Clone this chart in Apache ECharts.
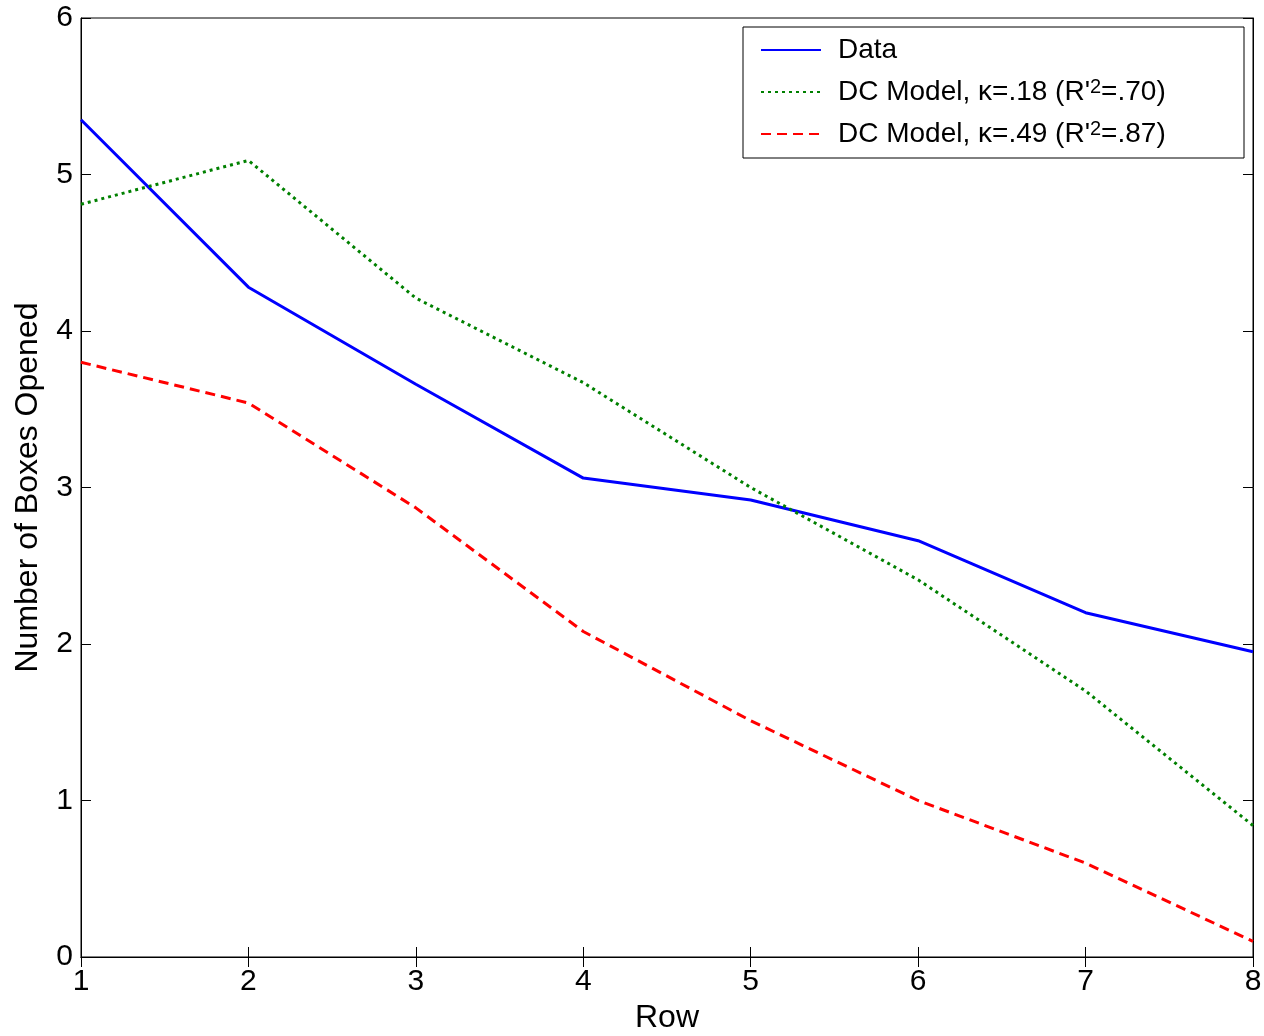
<!DOCTYPE html>
<html>
<head>
<meta charset="utf-8">
<script src="https://cdn.jsdelivr.net/npm/echarts@6/dist/echarts.min.js"></script>
<style>
html,body{margin:0;padding:0;background:#fff;}
#chart{width:1264px;height:1036px;}
</style>
</head>
<body>
<div id="chart"></div>
<script>
const rows = [1, 2, 3, 4, 5, 6, 7, 8];
const dataValues = [5.35, 4.28, 3.66, 3.06, 2.92, 2.66, 2.20, 1.95];
const dcModel18 = [4.81, 5.09, 4.21, 3.67, 3.00, 2.41, 1.70, 0.84];
const dcModel49 = [3.80, 3.54, 2.87, 2.08, 1.51, 1.00, 0.60, 0.10];
const seriesNames = ["Data", "DC Model, κ=.18 (R'2=.70)", "DC Model, κ=.49 (R'2=.87)"];
const legendRich = {
  "Data": "{t|Data}",
  "DC Model, κ=.18 (R'2=.70)": "{t|DC Model, κ=.18 (R'}{s|2}{t|=.70)}",
  "DC Model, κ=.49 (R'2=.87)": "{t|DC Model, κ=.49 (R'}{s|2}{t|=.87)}"
};
const xTicks = ["1", "2", "3", "4", "5", "6", "7", "8"];
const yTicks = ["0", "1", "2", "3", "4", "5", "6"];

const FONT = '"Liberation Sans", Arial, Helvetica, sans-serif';
const pair = vals => rows.map((r, i) => [r, vals[i]]);

const chart = echarts.init(document.getElementById('chart'), null, {renderer: 'canvas'});
const tickBase = {
  axisLine: {show: true, lineStyle: {color: '#000', width: 1}},
  axisTick: {show: true, inside: true, length: 10, lineStyle: {color: '#000', width: 1}},
  splitLine: {show: false}
};
chart.setOption({
  animation: false,
  backgroundColor: '#fff',
  grid: {left: 81, right: 11, top: 18, bottom: 79, show: true, borderColor: '#000', borderWidth: 1,
    backgroundColor: 'transparent', containLabel: false, outerBoundsMode: 'none'},
  legend: {
    data: seriesNames,
    orient: 'vertical',
    left: 743,
    top: 27,
    backgroundColor: '#fff',
    borderColor: '#000',
    borderWidth: 1,
    padding: [8, 10, 9, 17],
    itemWidth: 60,
    itemHeight: 14,
    itemGap: 12,
    itemStyle: {opacity: 0},
    formatter: name => legendRich[name],
    textStyle: {
      fontFamily: FONT,
      fontSize: 28,
      color: '#000',
      lineHeight: 30,
      width: 396,
      padding: [0, 0, 0, 12],
      rich: {
        t: {fontFamily: FONT, fontSize: 28, color: '#000', lineHeight: 30},
        s: {fontFamily: FONT, fontSize: 20, color: '#000', lineHeight: 10, verticalAlign: 'top'}
      }
    }
  },
  xAxis: [
    Object.assign({}, tickBase, {
      type: 'value', min: 1, max: 8, interval: 1, position: 'bottom',
      name: 'Row', nameLocation: 'middle', nameGap: 41,
      nameTextStyle: {fontFamily: FONT, fontSize: 32, color: '#000'},
      axisLabel: {fontFamily: FONT, fontSize: 30, color: '#000', margin: 10,
        formatter: v => xTicks[Math.round(v) - 1]}
    }),
    Object.assign({}, tickBase, {
      type: 'value', min: 1, max: 8, interval: 1, position: 'top',
      axisLabel: {show: false}
    })
  ],
  yAxis: [
    Object.assign({}, tickBase, {
      type: 'value', min: 0, max: 6, interval: 1, position: 'left',
      name: 'Number of Boxes Opened', nameLocation: 'middle', nameGap: 37,
      nameTextStyle: {fontFamily: FONT, fontSize: 32, color: '#000'},
      axisLabel: {fontFamily: FONT, fontSize: 30, color: '#000', margin: 8,
        formatter: v => yTicks[Math.round(v)]}
    }),
    Object.assign({}, tickBase, {
      type: 'value', min: 0, max: 6, interval: 1, position: 'right',
      axisLabel: {show: false}
    })
  ],
  series: [
    {name: seriesNames[0], type: 'line', data: pair(dataValues), symbol: 'none', showSymbol: false,
      lineStyle: {color: '#0000ff', width: 3, type: 'solid'}, itemStyle: {color: '#0000ff'}},
    {name: seriesNames[1], type: 'line', data: pair(dcModel18), symbol: 'none', showSymbol: false,
      lineStyle: {color: '#008000', width: 3, type: [3, 4]}, itemStyle: {color: '#008000'}},
    {name: seriesNames[2], type: 'line', data: pair(dcModel49), symbol: 'none', showSymbol: false,
      lineStyle: {color: '#ff0000', width: 3, type: [10, 6]}, itemStyle: {color: '#ff0000'}}
  ]
});
</script>
</body>
</html>
